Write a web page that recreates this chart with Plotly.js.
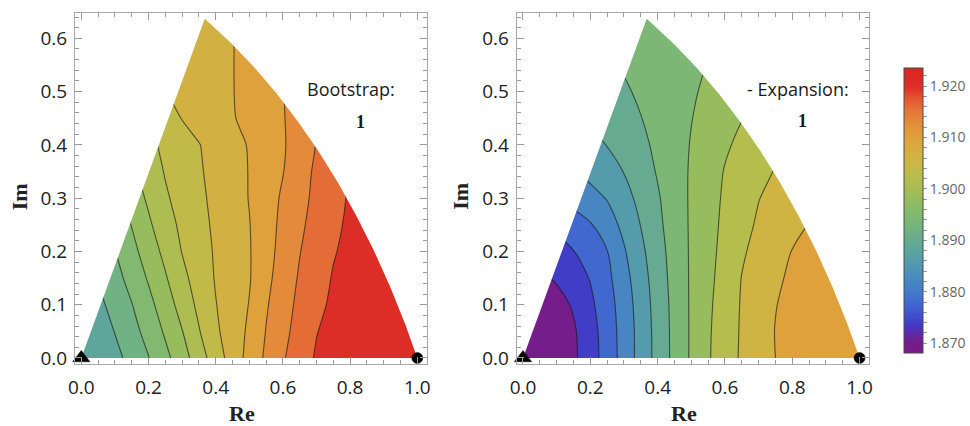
<!DOCTYPE html>
<html>
<head>
<meta charset="utf-8">
<script src="https://cdn.plot.ly/plotly-3.0.1.min.js"></script>
<style>
  html, body { margin: 0; padding: 0; background: #ffffff; }
  #chart { width: 970px; height: 426px; }
</style>
</head>
<body>
<div id="chart"></div>
<script>
// Sample grid (Re across, Im down the rows)
const gridRe = [0, 0.05, 0.10, 0.15, 0.20, 0.25, 0.30, 0.35, 0.40, 0.45, 0.50,
                0.55, 0.60, 0.65, 0.70, 0.75, 0.80, 0.85, 0.90, 0.95, 1.00];
const gridIm = [0, 0.05, 0.10, 0.15, 0.20, 0.25, 0.30, 0.35, 0.40, 0.45, 0.50, 0.55, 0.60, 0.65];

// Bootstrap estimate on the grid
const bootstrapZ = [
  [1.8862, 1.8879, 1.8896, 1.8915, 1.8934, 1.8957, 1.8982, 1.9011, 1.9040, 1.9068, 1.9095, 1.9120, 1.9142, 1.9162, 1.9178, 1.9187, 1.9197, 1.9207, 1.9217, 1.9226, 1.9236],
  [1.8868, 1.8887, 1.8906, 1.8925, 1.8945, 1.8969, 1.8994, 1.9023, 1.9050, 1.9070, 1.9090, 1.9116, 1.9137, 1.9156, 1.9174, 1.9184, 1.9193, 1.9202, 1.9212, 1.9221, 1.9230],
  [1.8878, 1.8897, 1.8916, 1.8934, 1.8956, 1.8981, 1.9006, 1.9032, 1.9054, 1.9070, 1.9086, 1.9112, 1.9133, 1.9152, 1.9168, 1.9180, 1.9189, 1.9198, 1.9206, 1.9215, 1.9224],
  [1.8889, 1.8907, 1.8925, 1.8945, 1.8968, 1.8992, 1.9017, 1.9038, 1.9057, 1.9070, 1.9083, 1.9107, 1.9129, 1.9148, 1.9163, 1.9177, 1.9186, 1.9194, 1.9203, 1.9211, 1.9220],
  [1.8899, 1.8917, 1.8934, 1.8956, 1.8979, 1.9003, 1.9026, 1.9043, 1.9058, 1.9070, 1.9083, 1.9104, 1.9125, 1.9144, 1.9159, 1.9173, 1.9182, 1.9191, 1.9199, 1.9208, 1.9216],
  [1.8908, 1.8925, 1.8945, 1.8966, 1.8990, 1.9013, 1.9031, 1.9046, 1.9060, 1.9072, 1.9084, 1.9103, 1.9122, 1.9140, 1.9155, 1.9169, 1.9180, 1.9188, 1.9197, 1.9205, 1.9214],
  [1.8917, 1.8934, 1.8955, 1.8978, 1.9000, 1.9021, 1.9036, 1.9049, 1.9062, 1.9073, 1.9086, 1.9102, 1.9119, 1.9136, 1.9152, 1.9166, 1.9178, 1.9187, 1.9195, 1.9204, 1.9212],
  [1.8926, 1.8944, 1.8966, 1.8988, 1.9009, 1.9027, 1.9040, 1.9052, 1.9063, 1.9075, 1.9086, 1.9101, 1.9114, 1.9133, 1.9150, 1.9164, 1.9177, 1.9185, 1.9194, 1.9202, 1.9211],
  [1.8934, 1.8955, 1.8976, 1.8998, 1.9017, 1.9032, 1.9043, 1.9054, 1.9065, 1.9076, 1.9087, 1.9100, 1.9112, 1.9129, 1.9146, 1.9161, 1.9174, 1.9184, 1.9192, 1.9201, 1.9209],
  [1.8944, 1.8964, 1.8987, 1.9006, 1.9024, 1.9040, 1.9056, 1.9064, 1.9074, 1.9083, 1.9093, 1.9103, 1.9113, 1.9129, 1.9145, 1.9160, 1.9174, 1.9183, 1.9191, 1.9200, 1.9208],
  [1.8960, 1.8975, 1.8990, 1.9010, 1.9034, 1.9054, 1.9062, 1.9070, 1.9077, 1.9084, 1.9094, 1.9104, 1.9114, 1.9128, 1.9143, 1.9158, 1.9172, 1.9181, 1.9190, 1.9199, 1.9207],
  [1.8970, 1.8985, 1.9000, 1.9020, 1.9045, 1.9059, 1.9065, 1.9072, 1.9078, 1.9084, 1.9095, 1.9105, 1.9114, 1.9128, 1.9142, 1.9156, 1.9170, 1.9180, 1.9189, 1.9198, 1.9206],
  [1.8975, 1.8990, 1.9005, 1.9025, 1.9048, 1.9060, 1.9066, 1.9072, 1.9078, 1.9084, 1.9095, 1.9106, 1.9116, 1.9129, 1.9142, 1.9156, 1.9170, 1.9179, 1.9188, 1.9197, 1.9205],
  [1.8980, 1.8995, 1.9010, 1.9030, 1.9050, 1.9061, 1.9067, 1.9073, 1.9079, 1.9084, 1.9096, 1.9107, 1.9117, 1.9130, 1.9143, 1.9157, 1.9170, 1.9179, 1.9188, 1.9197, 1.9205]
];

// Expansion estimate on the same grid
const expansionZ = [
  [1.8682, 1.8685, 1.8696, 1.8713, 1.8742, 1.8777, 1.8815, 1.8855, 1.8893, 1.8931, 1.8965, 1.8996, 1.9022, 1.9045, 1.9063, 1.9080, 1.9088, 1.9096, 1.9104, 1.9112, 1.9120],
  [1.8684, 1.8688, 1.8698, 1.8715, 1.8744, 1.8779, 1.8816, 1.8855, 1.8894, 1.8931, 1.8965, 1.8995, 1.9021, 1.9044, 1.9063, 1.9081, 1.9089, 1.9097, 1.9104, 1.9111, 1.9118],
  [1.8694, 1.8698, 1.8707, 1.8724, 1.8752, 1.8783, 1.8819, 1.8858, 1.8896, 1.8932, 1.8965, 1.8993, 1.9019, 1.9043, 1.9061, 1.9079, 1.9088, 1.9096, 1.9103, 1.9110, 1.9116],
  [1.8710, 1.8714, 1.8724, 1.8743, 1.8762, 1.8790, 1.8826, 1.8863, 1.8900, 1.8934, 1.8965, 1.8990, 1.9016, 1.9041, 1.9058, 1.9075, 1.9085, 1.9093, 1.9100, 1.9107, 1.9113],
  [1.8733, 1.8738, 1.8745, 1.8759, 1.8779, 1.8799, 1.8836, 1.8871, 1.8905, 1.8936, 1.8965, 1.8988, 1.9012, 1.9035, 1.9052, 1.9067, 1.9081, 1.9089, 1.9097, 1.9104, 1.9110],
  [1.8761, 1.8763, 1.8770, 1.8780, 1.8797, 1.8822, 1.8850, 1.8881, 1.8911, 1.8939, 1.8965, 1.8987, 1.9008, 1.9028, 1.9045, 1.9057, 1.9069, 1.9081, 1.9090, 1.9098, 1.9105],
  [1.8785, 1.8790, 1.8799, 1.8814, 1.8827, 1.8842, 1.8866, 1.8891, 1.8916, 1.8941, 1.8965, 1.8986, 1.9005, 1.9022, 1.9039, 1.9050, 1.9060, 1.9070, 1.9079, 1.9088, 1.9095],
  [1.8808, 1.8813, 1.8820, 1.8837, 1.8851, 1.8866, 1.8881, 1.8902, 1.8923, 1.8944, 1.8964, 1.8983, 1.9002, 1.9015, 1.9029, 1.9042, 1.9051, 1.9061, 1.9071, 1.9079, 1.9088],
  [1.8835, 1.8841, 1.8849, 1.8858, 1.8868, 1.8881, 1.8896, 1.8911, 1.8928, 1.8945, 1.8962, 1.8978, 1.8995, 1.9008, 1.9020, 1.9033, 1.9044, 1.9054, 1.9064, 1.9073, 1.9081],
  [1.8858, 1.8862, 1.8869, 1.8876, 1.8886, 1.8897, 1.8908, 1.8919, 1.8932, 1.8945, 1.8959, 1.8972, 1.8986, 1.8999, 1.9011, 1.9023, 1.9035, 1.9045, 1.9055, 1.9064, 1.9072],
  [1.8875, 1.8879, 1.8886, 1.8893, 1.8901, 1.8908, 1.8915, 1.8926, 1.8936, 1.8946, 1.8956, 1.8966, 1.8978, 1.8989, 1.8999, 1.9010, 1.9020, 1.9030, 1.9039, 1.9048, 1.9056],
  [1.8890, 1.8894, 1.8899, 1.8905, 1.8911, 1.8917, 1.8924, 1.8931, 1.8939, 1.8946, 1.8953, 1.8961, 1.8969, 1.8978, 1.8988, 1.8998, 1.9008, 1.9017, 1.9026, 1.9034, 1.9042],
  [1.8900, 1.8904, 1.8908, 1.8913, 1.8918, 1.8923, 1.8929, 1.8934, 1.8940, 1.8945, 1.8951, 1.8957, 1.8963, 1.8972, 1.8981, 1.8990, 1.8999, 1.9008, 1.9016, 1.9024, 1.9031],
  [1.8908, 1.8911, 1.8915, 1.8919, 1.8924, 1.8928, 1.8933, 1.8938, 1.8943, 1.8948, 1.8953, 1.8957, 1.8962, 1.8968, 1.8976, 1.8984, 1.8992, 1.8999, 1.9008, 1.9016, 1.9022]
];

// Region of the z-plane: origin, 60-degree edge up to the apex, arc down to z = 1
const domainRe = [0, 0.3676, 0.4454, 0.5146, 0.5813, 0.6453, 0.7064, 0.7645, 0.8193, 0.8710, 0.9192, 0.9638, 1.0];
const domainIm = [0, 0.6369, 0.5913, 0.5456, 0.4962, 0.4434, 0.3874, 0.3283, 0.2662, 0.2013, 0.1338, 0.0638, 0.0];

// Special points marked on the real axis
const pointRe = [0, 1];
const pointIm = [0, 0];

// Shared colour range
const zLow = 1.8682, zHigh = 1.9236;

// Contour levels of each panel
const bootstrapLevels = { start: 1.8905, end: 1.9175, size: 0.003 };
const expansionLevels = { start: 1.872, end: 1.908, size: 0.004 };

const rainbow = [
  [0.00, '#781c86'], [0.04, '#731d8c'], [0.10, '#423ac6'], [0.15, '#405bd0'],
  [0.21, '#4279cc'], [0.27, '#4a8dbd'], [0.33, '#569fa9'], [0.38, '#62a896'],
  [0.44, '#73b47f'], [0.50, '#87ba6a'], [0.56, '#a0bd57'], [0.62, '#b9bd4b'],
  [0.68, '#ceb544'], [0.73, '#dba93e'], [0.79, '#e2953a'], [0.85, '#e5763a'],
  [0.90, '#e2502e'], [0.93, '#dd2f28'], [1.00, '#db2424']
];

const xRange = [-0.0187, 1.028];
const yRange = [-0.0113, 0.6475];

function hexRgb(h) {
  return [parseInt(h.slice(1, 3), 16), parseInt(h.slice(3, 5), 16), parseInt(h.slice(5, 7), 16)];
}

function colorAt(v) {
  let p = (v - zLow) / (zHigh - zLow);
  p = Math.max(0, Math.min(1, p));
  for (let i = 1; i < rainbow.length; i++) {
    if (p <= rainbow[i][0]) {
      const a = rainbow[i - 1], b = rainbow[i];
      const t = (p - a[0]) / (b[0] - a[0]);
      const ca = hexRgb(a[1]), cb = hexRgb(b[1]);
      return 'rgb(' + ca.map((c, j) => Math.round(c + (cb[j] - c) * t)).join(',') + ')';
    }
  }
  return rainbow[rainbow.length - 1][1];
}

// Each filled band takes the shared-scale colour of its middle value
function bandScale(z, lv) {
  const flat = z.flat();
  const lo = Math.min(...flat), hi = Math.max(...flat);
  const nc = Math.round((lv.end - lv.start) / lv.size) + 1;
  const scale = [];
  for (let k = 0; k <= nc; k++) {
    let v;
    if (k === 0) v = (lo + lv.start) / 2;
    else if (k === nc) v = (lv.end + hi) / 2;
    else v = lv.start + (k - 0.5) * lv.size;
    scale.push([k / nc, colorAt(v)]);
  }
  return scale;
}

// White cover above the real axis but outside the region
// (outer box, then the region traced the other way round)
function maskOutline() {
  const xs = [-0.1, 1.1, 1.1, -0.1, -0.1];
  const ys = [0, 0, 0.8, 0.8, 0];
  domainRe.forEach((r, i) => { xs.push(r); ys.push(domainIm[i]); });
  xs.push(domainRe[0], -0.1);
  ys.push(domainIm[0], 0);
  return { xs, ys };
}

const lineStyle = { color: 'rgba(25,25,25,0.66)', width: 1.1 };

function contourTrace(z, lv, xa, ya, smooth) {
  return {
    type: 'contour', x: gridRe, y: gridIm, z: z, xaxis: xa, yaxis: ya,
    autocontour: false,
    contours: { start: lv.start, end: lv.end, size: lv.size, coloring: 'fill', showlines: true },
    line: Object.assign({ smoothing: smooth }, lineStyle),
    colorscale: bandScale(z, lv), showscale: false, hoverinfo: 'skip'
  };
}

function maskTrace(xa, ya) {
  const m = maskOutline();
  return {
    type: 'scatter', mode: 'lines', x: m.xs, y: m.ys, xaxis: xa, yaxis: ya,
    fill: 'toself', fillcolor: '#ffffff', line: { width: 0, color: '#ffffff' },
    hoverinfo: 'skip', showlegend: false
  };
}

// Marked points sit on an overlaid subplot so they stay above the white cover
function pointTrace(xa, ya) {
  return {
    type: 'scatter', mode: 'markers', x: pointRe, y: pointIm, xaxis: xa, yaxis: ya,
    marker: { symbol: ['triangle-up', 'circle'], size: [15, 11], color: '#000000', opacity: 1,
              line: { width: 0.5, color: '#000000' } },
    cliponaxis: false, hoverinfo: 'skip', showlegend: false
  };
}

const cbTicks = [], cbText = [];
for (let i = 0; i <= 27; i++) {
  const v = 1.868 + i * 0.002;
  cbTicks.push(+v.toFixed(3));
  cbText.push(i % 5 === 1 ? v.toFixed(3) : '');
}

const scaleTrace = {
  type: 'scatter', mode: 'markers', x: [0.5, 0.5], y: [5, 5], xaxis: 'x', yaxis: 'y',
  marker: {
    color: [zLow, zHigh], cmin: zLow, cmax: zHigh, colorscale: rainbow, opacity: 0, showscale: true,
    colorbar: {
      x: (904 - 75) / 794, xref: 'paper', xanchor: 'left',
      y: (364 - 210) / 351, yref: 'paper', yanchor: 'middle',
      len: 285, lenmode: 'pixels', thickness: 19, thicknessmode: 'pixels',
      xpad: 0, ypad: 0, outlinewidth: 1, outlinecolor: '#4a4a4a',
      tickmode: 'array', tickvals: cbTicks, ticktext: cbText,
      ticks: 'outside', ticklen: 4, tickcolor: '#9a9a9a',
      tickfont: { family: 'Open Sans', size: 14, color: '#666666' }
    }
  },
  hoverinfo: 'skip', showlegend: false
};

const tickFont = { family: 'Open Sans', size: 19, color: '#222222' };
const titleFont = { family: 'Liberation Serif', size: 22, color: '#222222', weight: 'bold' };

function xAxis(domain, anchor) {
  return {
    domain: domain, anchor: anchor, range: xRange,
    tick0: 0, dtick: 0.2, tickformat: '.1f',
    ticks: 'inside', ticklen: 7, tickwidth: 1, tickcolor: '#9a9a9a',
    minor: { dtick: 0.05, ticks: 'inside', ticklen: 4, tickcolor: '#9a9a9a', showgrid: false },
    showline: true, linecolor: '#a8a8a8', linewidth: 1, mirror: 'allticks',
    showgrid: false, zeroline: false, tickfont: tickFont, ticklabelstandoff: 6
  };
}

function yAxis(anchor) {
  return {
    domain: [0, 1], anchor: anchor, range: yRange,
    tick0: 0, dtick: 0.1, tickformat: '.1f',
    ticks: 'inside', ticklen: 7, tickwidth: 1, tickcolor: '#9a9a9a',
    minor: { dtick: 0.02, ticks: 'inside', ticklen: 4, tickcolor: '#9a9a9a', showgrid: false },
    showline: true, linecolor: '#a8a8a8', linewidth: 1, mirror: 'allticks',
    showgrid: false, zeroline: false, tickfont: tickFont, ticklabelstandoff: 3
  };
}

function overlayAxis(base, anchor, range) {
  return { overlaying: base, anchor: anchor, range: range, visible: false, showgrid: false, zeroline: false };
}

const textFont = { family: 'Open Sans', size: 18, color: '#1a1a1a' };
const oneFont = { family: 'Liberation Serif', size: 18, color: '#1a1a1a', weight: 'bold' };

function axisLabel(text, x, y, angle) {
  return { xref: 'paper', yref: 'paper', x: x, y: y, xanchor: 'center', yanchor: 'middle',
           text: text, textangle: angle, showarrow: false, font: titleFont, borderpad: 0 };
}

const layout = {
  width: 970, height: 426,
  margin: { l: 75, r: 101, t: 13, b: 62, autoexpand: false },
  paper_bgcolor: '#ffffff', plot_bgcolor: '#ffffff',
  showlegend: false,
  xaxis: xAxis([0, 0.44295], 'y'),
  yaxis: yAxis('x'),
  xaxis2: xAxis([0.5563, 1], 'y2'),
  yaxis2: yAxis('x2'),
  xaxis3: overlayAxis('x', 'y3', xRange),
  yaxis3: overlayAxis('y', 'x3', yRange),
  xaxis4: overlayAxis('x2', 'y4', xRange),
  yaxis4: overlayAxis('y2', 'x4', yRange),
  annotations: [
    axisLabel('Re', (242 - 75) / 794, (364 - 413) / 351, 0),
    axisLabel('Re', (684 - 75) / 794, (364 - 413) / 351, 0),
    axisLabel('Im', (19.5 - 75) / 794, (364 - 196.7) / 351, -90),
    axisLabel('Im', (461 - 75) / 794, (364 - 196.7) / 351, -90),
    { xref: 'x', yref: 'y', x: 0.804, y: 0.505, text: 'Bootstrap:', showarrow: false, font: textFont },
    { xref: 'x', yref: 'y', x: 0.830, y: 0.443, text: '1', showarrow: false, font: oneFont },
    { xref: 'x2', yref: 'y2', x: 0.818, y: 0.505, text: '- Expansion:', showarrow: false, font: textFont },
    { xref: 'x2', yref: 'y2', x: 0.8295, y: 0.445, text: '1', showarrow: false, font: oneFont }
  ]
};

const data = [
  contourTrace(bootstrapZ, bootstrapLevels, 'x', 'y', 0.7),
  contourTrace(expansionZ, expansionLevels, 'x2', 'y2', 1),
  maskTrace('x', 'y'),
  maskTrace('x2', 'y2'),
  pointTrace('x3', 'y3'),
  pointTrace('x4', 'y4'),
  scaleTrace
];

Plotly.newPlot('chart', data, layout, { displayModeBar: false, staticPlot: true });
</script>
</body>
</html>
